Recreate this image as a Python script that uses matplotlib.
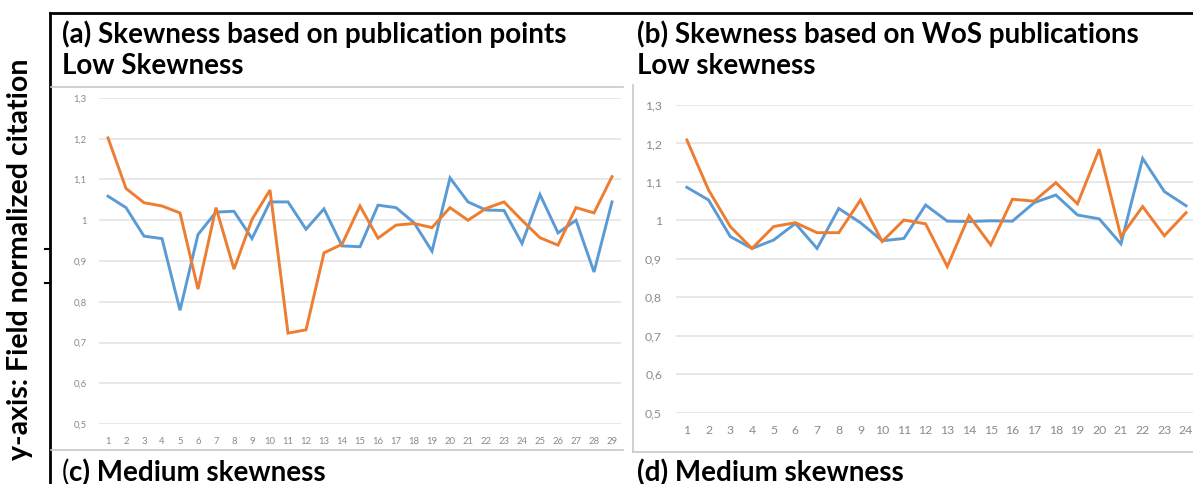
import matplotlib.pyplot as plt
from matplotlib.lines import Line2D
from matplotlib.ticker import FuncFormatter

# (a) skewness based on publication points, low skewness
a_x = list(range(1, 30))
a_blue = [1.059, 1.031, 0.961, 0.955, 0.779, 0.965, 1.020, 1.022, 0.955, 1.045,
          1.045, 0.978, 1.028, 0.937, 0.935, 1.037, 1.031, 0.994, 0.924, 1.104,
          1.045, 1.025, 1.024, 0.943, 1.063, 0.969, 1.000, 0.873, 1.045]
a_orange = [1.202, 1.078, 1.043, 1.035, 1.018, 0.831, 1.031, 0.880, 1.002, 1.074,
            0.723, 0.731, 0.920, 0.941, 1.035, 0.956, 0.988, 0.992, 0.982, 1.031,
            1.000, 1.029, 1.045, 1.000, 0.957, 0.939, 1.031, 1.018, 1.107]

# (b) skewness based on WoS publications, low skewness
b_x = list(range(1, 25))
b_blue = [1.086, 1.053, 0.958, 0.927, 0.949, 0.992, 0.927, 1.031, 0.994, 0.947,
          0.953, 1.040, 0.998, 0.997, 0.999, 0.998, 1.046, 1.066, 1.014, 1.004,
          0.939, 1.161, 1.075, 1.038]
b_orange = [1.209, 1.079, 0.984, 0.927, 0.984, 0.994, 0.968, 0.968, 1.053, 0.945,
            1.001, 0.991, 0.880, 1.012, 0.936, 1.055, 1.050, 1.098, 1.043, 1.185,
            0.958, 1.036, 0.960, 1.020]

y_ticks = [0.5, 0.6, 0.7, 0.8, 0.9, 1.0, 1.1, 1.2, 1.3]

BLUE = '#5B9BD5'
ORANGE = '#ED7D31'
TICK = '#8a8a8a'
GRID = '#e6e6e6'

W, H = 1193, 484


def px_rect(x0, y_top, x1, y_bot):
    return [x0 / W, 1 - y_bot / H, (x1 - x0) / W, (y_bot - y_top) / H]


def comma(v, pos):
    if abs(v - round(v)) < 1e-9:
        return '%d' % round(v)
    return ('%.1f' % v).replace('.', ',')


def excel_line(ax, x, blue, orange, xlim, fsize, lw):
    ax.plot(x, blue, color=BLUE, lw=lw, solid_joinstyle='miter')
    ax.plot(x, orange, color=ORANGE, lw=lw, solid_joinstyle='miter')
    ax.set_xlim(*xlim)
    ax.set_ylim(0.5, 1.3)
    ax.set_yticks(y_ticks)
    ax.set_xticks(x)
    ax.yaxis.set_major_formatter(FuncFormatter(comma))
    ax.grid(axis='y', color=GRID, lw=1.3)
    ax.set_axisbelow(True)
    for s in ax.spines.values():
        s.set_visible(False)
    ax.tick_params(length=0, colors=TICK, labelsize=fsize)
    for lab in ax.get_xticklabels() + ax.get_yticklabels():
        lab.set_family('Lato')


fig = plt.figure(figsize=(W / 100, H / 100), dpi=100)

ax1 = fig.add_axes(px_rect(99, 98, 621, 424))
excel_line(ax1, a_x, a_blue, a_orange, (0.5, 29.5), 6.8, 2.1)
ax1.tick_params(axis='y', pad=9)
ax1.tick_params(axis='x', pad=9)

ax2 = fig.add_axes(px_rect(676, 105, 1193, 412.7))
excel_line(ax2, b_x, b_blue, b_orange, (0.5, 24.32), 8.8, 2.1)
ax2.tick_params(axis='y', pad=10)
ax2.tick_params(axis='x', pad=9)


def fig_line(x0, y0, x1, y1, color, lw):
    fig.add_artist(Line2D([x0 / W, x1 / W], [1 - y0 / H, 1 - y1 / H],
                          color=color, lw=lw, transform=fig.transFigure))


# black outer border
fig_line(50, 13, 1193, 13, 'black', 2)
fig_line(50, 13, 50, 484, 'black', 2)
# grey frames of the pasted charts
fig_line(51, 87, 623, 87, '#c8c8c8', 1.2)
fig_line(51, 450, 623, 450, '#c8c8c8', 1.2)
fig_line(633, 85, 633, 452, '#c8c8c8', 1.2)
fig_line(633, 452, 1193, 452, '#c8c8c8', 1.2)
# little marks on the border
fig_line(45, 249, 49, 249, 'black', 1.5)
fig_line(45, 283, 49, 283, 'black', 1.5)

tkw = dict(family='Lato', weight='bold', size=20, va='baseline', ha='left')
fig.text(62 / W, 1 - 43 / H, '(a) Skewness based on publication points', **tkw)
fig.text(62 / W, 1 - 74 / H, 'Low Skewness', **tkw)
fig.text(637 / W, 1 - 43 / H, '(b) Skewness based on WoS publications', **tkw)
fig.text(637 / W, 1 - 74 / H, 'Low skewness', **tkw)

t = fig.text(62 / W, 1 - 481 / H, '(', family='Lato', size=20,
             va='baseline', ha='left')
fig.canvas.draw()
bb = t.get_window_extent()
fig.text(bb.x1 / W, 1 - 481 / H, 'c) Medium skewness', **tkw)
fig.text(637 / W, 1 - 481 / H, '(d) Medium skewness', **tkw)

fig.text(20 / W, 1 - 259 / H, 'y-axis: Field normalized citation',
         family='Lato', weight='bold', size=20.5, rotation=90,
         ha='center', va='center')

fig.savefig('out.png', dpi=100)
